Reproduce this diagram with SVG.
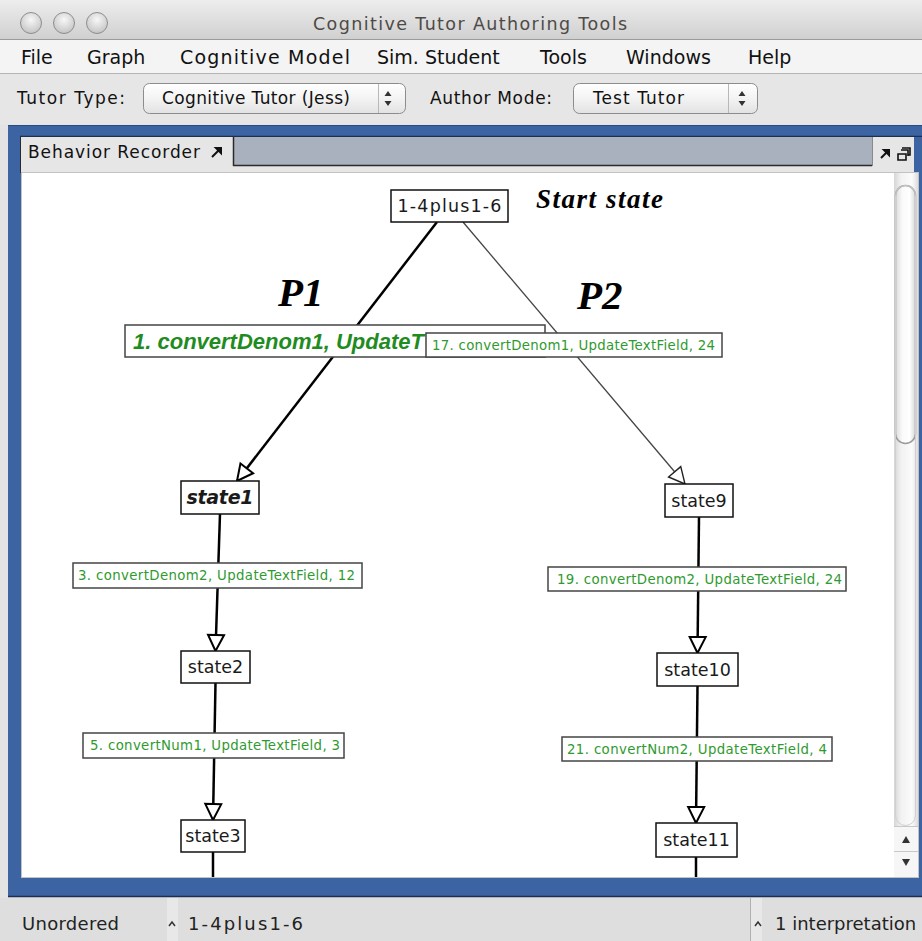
<svg xmlns="http://www.w3.org/2000/svg" width="922" height="941" viewBox="0 0 922 941">
  <defs>
    <linearGradient id="titleGrad" x1="0" y1="0" x2="0" y2="1">
      <stop offset="0" stop-color="#ededed"/>
      <stop offset="1" stop-color="#d0d0d0"/>
    </linearGradient>
    <linearGradient id="comboGrad" x1="0" y1="0" x2="0" y2="1">
      <stop offset="0" stop-color="#ffffff"/>
      <stop offset="0.5" stop-color="#f3f3f3"/>
      <stop offset="1" stop-color="#e2e2e2"/>
    </linearGradient>
    <radialGradient id="lightGrad" cx="0.5" cy="0.35" r="0.65">
      <stop offset="0" stop-color="#f7f7f7"/>
      <stop offset="1" stop-color="#c4c4c4"/>
    </radialGradient>
    <linearGradient id="trackGrad" x1="0" y1="0" x2="1" y2="0">
      <stop offset="0" stop-color="#d6d6d6"/>
      <stop offset="0.3" stop-color="#f2f2f2"/>
      <stop offset="0.75" stop-color="#fbfbfb"/>
      <stop offset="1" stop-color="#dddddd"/>
    </linearGradient>
    <linearGradient id="thumbGrad" x1="0" y1="0" x2="1" y2="0">
      <stop offset="0" stop-color="#dcdcdc"/>
      <stop offset="0.35" stop-color="#fafafa"/>
      <stop offset="0.7" stop-color="#ffffff"/>
      <stop offset="1" stop-color="#d8d8d8"/>
    </linearGradient>
    <marker id="arrowOpen" markerUnits="userSpaceOnUse" markerWidth="22" markerHeight="22" refX="17" refY="8" orient="auto" overflow="visible">
      <path d="M1,0 L17,8 L1,16 Z" fill="#fff" stroke="#000" stroke-width="2"/>
    </marker>
    <marker id="arrowThin" markerUnits="userSpaceOnUse" markerWidth="22" markerHeight="22" refX="17" refY="8" orient="auto" overflow="visible">
      <path d="M1,0 L17,8 L1,16 Z" fill="#fff" stroke="#222" stroke-width="1.4"/>
    </marker>
    <clipPath id="canvasClip">
      <rect x="22" y="173" width="871" height="704"/>
    </clipPath>
  </defs>
  <style>
    .ui { font-family: "DejaVu Sans", "Liberation Sans", sans-serif; fill: #111; }
    .menu { font-size: 19px; }
    .tool { font-size: 17px; }
    .status { font-size: 18px; fill: #222; }
    .node rect { fill: #fff; stroke: #111; stroke-width: 1.5; }
    .node text { font-family: "DejaVu Sans", "Liberation Sans", sans-serif; font-size: 17.5px; fill: #1a1a1a; text-anchor: middle; }
    .node text.cur { font-weight: bold; font-style: italic; font-size: 19px; }
    .lbl rect { fill: #fff; stroke: #444; stroke-width: 1.5; }
    .lbl text { font-family: "DejaVu Sans", "Liberation Sans", sans-serif; font-size: 13.3px; fill: #2f9a2f; }
    .lbl text.cur { font-family: "Liberation Sans", "DejaVu Sans", sans-serif; font-weight: bold; font-style: italic; font-size: 22px; fill: #1f8c1f; }
    .edge { fill: none; stroke: #000; stroke-width: 2.5; marker-end: url(#arrowOpen); }
    .edge.thin { stroke: #444; stroke-width: 1.3; marker-end: url(#arrowThin); }
    .edge.tail { marker-end: none; }
    .note { font-family: "Liberation Serif", "DejaVu Serif", serif; font-weight: bold; font-style: italic; fill: #000; }
  </style>

  <!-- window chrome: title bar -->
  <rect x="0" y="0" width="922" height="39" fill="url(#titleGrad)"/>
  <line x1="0" y1="39.5" x2="922" y2="39.5" stroke="#9c9c9c"/>
  <circle cx="31" cy="23" r="10.5" fill="url(#lightGrad)" stroke="#8e8e8e"/>
  <circle cx="64" cy="23" r="10.5" fill="url(#lightGrad)" stroke="#8e8e8e"/>
  <circle cx="97" cy="23" r="10.5" fill="url(#lightGrad)" stroke="#8e8e8e"/>
  <text class="ui" x="470" y="30" font-size="17.5" style="fill:#4e4a46" text-anchor="middle" textLength="314">Cognitive Tutor Authoring Tools</text>

  <!-- menu bar -->
  <rect x="0" y="40" width="922" height="33" fill="#f4f4f4"/>
  <line x1="0" y1="73.5" x2="922" y2="73.5" stroke="#b4b4b4"/>
  <text class="ui menu" x="21" y="64">File</text>
  <text class="ui menu" x="87" y="64">Graph</text>
  <text class="ui menu" x="180" y="64" textLength="170">Cognitive Model</text>
  <text class="ui menu" x="377" y="64">Sim. Student</text>
  <text class="ui menu" x="540" y="64">Tools</text>
  <text class="ui menu" x="626" y="64">Windows</text>
  <text class="ui menu" x="748" y="64">Help</text>

  <!-- toolbar -->
  <rect x="0" y="74" width="922" height="51" fill="#e6e6e6"/>
  <text class="ui tool" x="17" y="104" textLength="108">Tutor Type:</text>
  <g id="tutorTypeCombo">
    <rect x="143.5" y="83.5" width="262" height="30" rx="6" fill="url(#comboGrad)" stroke="#8c8c8c"/>
    <line x1="378.5" y1="84" x2="378.5" y2="113" stroke="#b8b8b8"/>
    <path d="M384.5,96 L391.5,96 L388,91 Z M384.5,101 L391.5,101 L388,106 Z" fill="#333"/>
    <text class="ui tool" x="162" y="104" textLength="188">Cognitive Tutor (Jess)</text>
  </g>
  <text class="ui tool" x="430" y="104" textLength="122">Author Mode:</text>
  <g id="authorModeCombo">
    <rect x="573.5" y="83.5" width="184" height="30" rx="6" fill="url(#comboGrad)" stroke="#8c8c8c"/>
    <line x1="728.5" y1="84" x2="728.5" y2="113" stroke="#b8b8b8"/>
    <path d="M738.5,96 L745.5,96 L742,91 Z M738.5,101 L745.5,101 L742,106 Z" fill="#333"/>
    <text class="ui tool" x="593" y="104" textLength="91">Test Tutor</text>
  </g>

  <!-- blue frame around the recorder panel -->
  <rect x="0" y="125" width="922" height="816" fill="#e3e3e3"/>
  <rect x="8" y="125" width="914" height="772" fill="#3c63a2"/>
  <line x1="8" y1="125.5" x2="922" y2="125.5" stroke="#2a4a80"/>
  <line x1="20" y1="136.5" x2="922" y2="136.5" stroke="#1c2f50" stroke-width="1.5"/>

  <!-- tab row -->
  <rect x="20" y="137" width="902" height="36" fill="#e6e6e6"/>
  <rect x="233" y="137" width="639" height="28" fill="#a9b1be"/>
  <line x1="233" y1="165.5" x2="872" y2="165.5" stroke="#2a2a2a" stroke-width="1.5"/>
  <line x1="20.5" y1="137" x2="20.5" y2="173" stroke="#2a2a2a"/>
  <line x1="233.5" y1="137" x2="233.5" y2="166" stroke="#2a2a2a" stroke-width="1.5"/>
  <line x1="872.5" y1="137" x2="872.5" y2="166" stroke="#8a8a8a"/>
  <text class="ui tool" x="28" y="158" textLength="172">Behavior Recorder</text>
  <path d="M212,157 L220,149 M216,148 L221,148 L221,153 Z" stroke="#111" stroke-width="2" fill="#111"/>
  <path d="M881,158 L888,151 M884,150 L889,150 L889,155 Z" stroke="#111" stroke-width="2" fill="#111"/>
  <path d="M901,150 h7 v6 M898,154 h8 v6 h-8 Z M902,148 h8 v7 h-2" stroke="#111" stroke-width="1.6" fill="none"/>
  <line x1="918" y1="137" x2="918" y2="897" stroke="#3c63a2" stroke-width="8"/>

  <!-- drawing canvas -->
  <rect x="21.5" y="172.5" width="897" height="705" fill="#fff" stroke="#c2c2c2"/>

  <!-- scrollbar -->
  <g id="scrollbar">
    <rect x="894" y="173" width="24" height="704" fill="url(#trackGrad)"/>
    <rect x="895.5" y="185.5" width="20" height="258" rx="10" fill="url(#thumbGrad)" stroke="#9a9a9a" stroke-width="1.5"/>
    <rect x="895.5" y="185.5" width="20" height="640" rx="10" fill="none" stroke="#d0d0d0"/>
    <rect x="894" y="827" width="24" height="50" fill="#f6f6f6"/>
    <line x1="894" y1="851.5" x2="918" y2="851.5" stroke="#c8c8c8"/>
    <line x1="894" y1="826.5" x2="918" y2="826.5" stroke="#c8c8c8"/>
    <path d="M902,843 L910,843 L906,836 Z" fill="#333"/>
    <path d="M902,859 L910,859 L906,866 Z" fill="#333"/>
  </g>

  <!-- connectors -->
  <g id="connectors" clip-path="url(#canvasClip)">
    <path class="edge" d="M437,222 L237,481"/>
    <path class="edge thin" d="M463,222 L685,484"/>
    <path class="edge" d="M220,514 L215.5,651"/>
    <path class="edge" d="M215.5,683 L213,820"/>
    <path class="edge tail" d="M213,852 L213,880"/>
    <path class="edge" d="M699,517 L697.5,653"/>
    <path class="edge" d="M697.5,686 L696,823"/>
    <path class="edge tail" d="M696,857 L696,880"/>
  </g>

  <!-- annotations -->
  <text class="note" x="536" y="208" font-size="27" textLength="127">Start state</text>
  <text class="note" x="278" y="306" font-size="41">P1</text>
  <text class="note" x="577" y="309" font-size="41">P2</text>

  <!-- states -->
  <g id="startState" class="node">
    <rect x="391" y="190" width="117" height="32"/>
    <text x="449.5" y="212" textLength="104">1-4plus1-6</text>
  </g>
  <g id="state1" class="node">
    <rect x="181" y="481" width="78" height="33"/>
    <text class="cur" x="220" y="504" textLength="67">state1</text>
  </g>
  <g id="state2" class="node">
    <rect x="181" y="651" width="69" height="32"/>
    <text x="215.5" y="673">state2</text>
  </g>
  <g id="state3" class="node">
    <rect x="181" y="820" width="64" height="32"/>
    <text x="213" y="842">state3</text>
  </g>
  <g id="state9" class="node">
    <rect x="665" y="484" width="68" height="33"/>
    <text x="699" y="507">state9</text>
  </g>
  <g id="state10" class="node">
    <rect x="657" y="653" width="81" height="33"/>
    <text x="697.5" y="676">state10</text>
  </g>
  <g id="state11" class="node">
    <rect x="656" y="823" width="81" height="34"/>
    <text x="696.5" y="846">state11</text>
  </g>

  <!-- edge labels -->
  <g id="label1" class="lbl">
    <rect x="125" y="325" width="420" height="32"/>
    <text class="cur" x="133" y="349">1. convertDenom1, UpdateT</text>
  </g>
  <g id="label17" class="lbl">
    <rect x="426" y="333" width="296" height="24"/>
    <text x="432" y="350" textLength="283">17. convertDenom1, UpdateTextField, 24</text>
  </g>
  <g id="label3" class="lbl">
    <rect x="73" y="563" width="289" height="25"/>
    <text x="78" y="580" textLength="277">3. convertDenom2, UpdateTextField, 12</text>
  </g>
  <g id="label19" class="lbl">
    <rect x="548" y="567" width="298" height="24"/>
    <text x="557" y="584" textLength="285">19. convertDenom2, UpdateTextField, 24</text>
  </g>
  <g id="label5" class="lbl">
    <rect x="83" y="733" width="261" height="25"/>
    <text x="90" y="750" textLength="250">5. convertNum1, UpdateTextField, 3</text>
  </g>
  <g id="label21" class="lbl">
    <rect x="562" y="737" width="270" height="24"/>
    <text x="567" y="754" textLength="260">21. convertNum2, UpdateTextField, 4</text>
  </g>

  <!-- status bar -->
  <line x1="8" y1="896.5" x2="922" y2="896.5" stroke="#1c2f50" stroke-width="1.5"/>
  <rect x="0" y="898" width="922" height="43" fill="#dedede"/>
  <rect x="167" y="898" width="11" height="43" fill="#e8e8e8"/>
  <line x1="750.5" y1="898" x2="750.5" y2="941" stroke="#b0b0b0"/>
  <rect x="751" y="898" width="11" height="43" fill="#e8e8e8"/>
  <text class="ui status" x="22" y="930" textLength="97">Unordered</text>
  <path d="M169,926 L172,922 L175,926" stroke="#333" stroke-width="1.5" fill="none"/>
  <text class="ui status" x="188" y="930" font-size="19" textLength="115">1-4plus1-6</text>
  <path d="M755,926 L758,922 L761,926" stroke="#333" stroke-width="1.5" fill="none"/>
  <text class="ui status" x="775" y="930">1 interpretation</text>
</svg>
